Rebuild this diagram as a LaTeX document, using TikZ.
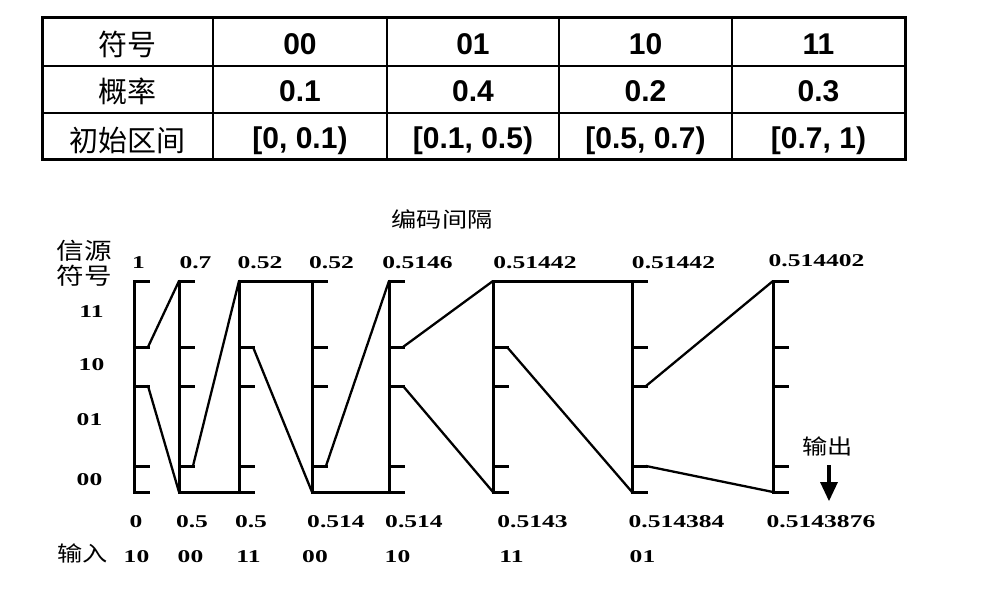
\documentclass[tikz,border=0pt]{standalone}
\usepackage{fontspec}
\setmainfont{Liberation Serif}
\newfontfamily\tabfont{Liberation Sans}
\newfontfamily\cjk{Noto Sans CJK SC}
\newfontfamily\cjkw[FakeStretch=1.2]{Noto Sans CJK SC}
\newfontfamily\dnum[FakeStretch=1.42]{Liberation Serif}
\begin{document}
\begin{tikzpicture}[x=1pt,y=-1pt,
  tabcjk/.style={inner sep=0pt, font=\cjk\fontsize{29}{32}\selectfont},
  tabnum/.style={inner sep=0pt, anchor=base, font=\tabfont\bfseries\fontsize{30}{34}\selectfont},
  num/.style={inner sep=0pt, anchor=base, font=\dnum\bfseries\fontsize{18}{20}\selectfont},
  lab/.style={inner sep=0pt, font=\cjkw\fontsize{21}{25}\selectfont},
  barline/.style={line width=3pt, line cap=rect},
  link/.style={line width=2.3pt, line cap=round, line join=round},
]
\useasboundingbox (0,0) rectangle (994,615);
% ---------- table ----------
\draw[line width=1.3pt] (42,66) -- (905,66) (42,113) -- (905,113)
  (213,18) -- (213,160) (387,18) -- (387,160) (559,18) -- (559,160) (732,18) -- (732,160);
\draw[line width=3pt] (42,18) rectangle (905,160);
\node[tabcjk] (h1) at (127.5,44.5) {符号};
\node[tabcjk] (h2) at (127.5,91.5) {概率};
\node[tabcjk] (h3) at (127.5,140) {初始区间};
\node[tabnum] (s1) at (300,55) {00};
\node[tabnum] (s2) at (473,55) {01};
\node[tabnum] (s3) at (645.5,55) {10};
\node[tabnum] (s4) at (818.5,55) {11};
\node[tabnum] (p1) at (300,102) {0.1};
\node[tabnum] (p2) at (473,102) {0.4};
\node[tabnum] (p3) at (645.5,102) {0.2};
\node[tabnum] (p4) at (818.5,102) {0.3};
\node[tabnum] (i1) at (300,149) {[0, 0.1)};
\node[tabnum] (i2) at (473,149) {[0.1, 0.5)};
\node[tabnum] (i3) at (645.5,149) {[0.5, 0.7)};
\node[tabnum] (i4) at (818.5,149) {[0.7, 1)};
% ---------- diagram labels ----------
\node[lab] (title) at (442,219) {编码间隔};
\node[lab, align=center, font=\cjkw\fontsize{23}{25}\selectfont] (src) at (84,263) {信源\\符号};
\node[num] (l11) at (91.5,317) {11};
\node[num] (l10) at (91.5,370) {10};
\node[num] (l01) at (89.5,425) {01};
\node[num] (l00) at (89.5,485) {00};
% top values
\node[num] (u1) at (138.5,268) {1};
\node[num] (u2) at (195.5,268) {0.7};
\node[num] (u3) at (260,268) {0.52};
\node[num] (u4) at (331.5,268) {0.52};
\node[num] (u5) at (417.5,268) {0.5146};
\node[num] (u6) at (535,268) {0.51442};
\node[num] (u7) at (673.5,268) {0.51442};
\node[num] (u8) at (816.5,266) {0.514402};
% bottom values
\node[num] (d1) at (136,527) {0};
\node[num] (d2) at (192,527) {0.5};
\node[num] (d3) at (251,527) {0.5};
\node[num] (d4) at (336,527) {0.514};
\node[num] (d5) at (414,527) {0.514};
\node[num] (d6) at (532.5,527) {0.5143};
\node[num] (d7) at (676.5,527) {0.514384};
\node[num] (d8) at (821,527) {0.5143876};
% inputs
\node[lab] (inp) at (82.5,553) {输入};
\node[num] (n1) at (136.5,562) {10};
\node[num] (n2) at (190.5,562) {00};
\node[num] (n3) at (248.5,562) {11};
\node[num] (n4) at (315,562) {00};
\node[num] (n5) at (397.5,562) {10};
\node[num] (n6) at (511.5,562) {11};
\node[num] (n7) at (642.5,562) {01};
% ---------- bars ----------
\foreach \i/\x in {1/134,2/179,3/239,4/312,5/389,6/493,7/632,8/773} {
  \coordinate (b\i-t) at (\x,281);  \coordinate (b\i-te) at (\x+14,281);
  \coordinate (b\i-s) at (\x,347);  \coordinate (b\i-se) at (\x+14,347);
  \coordinate (b\i-r) at (\x,386);  \coordinate (b\i-re) at (\x+14,386);
  \coordinate (b\i-q) at (\x,466);  \coordinate (b\i-qe) at (\x+14,466);
  \coordinate (b\i-b) at (\x,492);  \coordinate (b\i-be) at (\x+14,492);
  \draw[barline] (b\i-te) -- (b\i-t) -- (b\i-b) -- (b\i-be);
  \draw[barline] (b\i-s) -- (b\i-se) (b\i-r) -- (b\i-re) (b\i-q) -- (b\i-qe);
}
% ---------- connectors ----------
\draw[link] (b1-se) -- (b2-t);
\draw[link] (b1-re) -- (b2-b);
\draw[link] (b2-qe) -- (b3-t);
\draw[barline] (b2-b) -- (b3-b);
\draw[barline] (b3-t) -- (b4-t);
\draw[link] (b3-se) -- (b4-b);
\draw[link] (b4-qe) -- (b5-t);
\draw[barline] (b4-b) -- (b5-b);
\draw[link] (b5-se) -- (b6-t);
\draw[link] (b5-re) -- (b6-b);
\draw[barline] (b6-t) -- (b7-t);
\draw[link] (b6-se) -- (b7-b);
\draw[link] (b7-re) -- (b8-t);
\draw[link] (b7-qe) -- (b8-b);
% ---------- output arrow ----------
\node[lab] (out) at (827.5,446) {输出};
\coordinate (arrS) at (829,465);
\coordinate (arrB) at (829,482);
\coordinate (arrE) at (829,501);
\draw[line width=4pt] (arrS) -- (arrB);
\fill (arrB) ++(-9,0) -- ++(18,0) -- (arrE) -- cycle;
\end{tikzpicture}
\end{document}
